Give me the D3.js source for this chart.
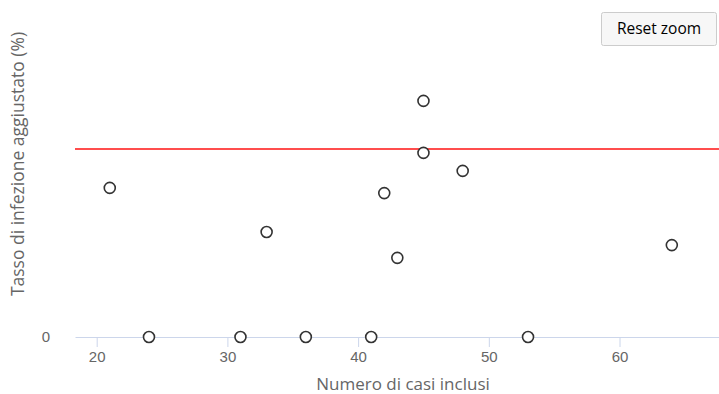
<!DOCTYPE html>
<html>
<head>
<meta charset="utf-8">
<script src="https://cdn.jsdelivr.net/npm/d3@7"></script>
<style>
  body { margin: 0; background: #fff; }
  svg { display: block; font-family: "Open Sans", sans-serif; }
</style>
</head>
<body>
<div id="chart"></div>
<script>
// cases included per hospital
const casesIncluded = [21, 24, 31, 33, 36, 41, 42, 43, 45, 45, 48, 53, 64];
// adjusted infection rate (%)
const adjustedRate = [4.56, 0, 0, 3.21, 0, 0, 4.40, 2.42, 7.22, 5.63, 5.08, 0, 2.81];
const referenceRate = 5.75;
const xTicks = [20, 30, 40, 50, 60];
const yTicks = [0];

const width = 719, height = 394;
const margin = { top: 10, right: 0, bottom: 57, left: 75 };

const svg = d3.select("#chart").append("svg")
    .attr("width", width)
    .attr("height", height);

const x = d3.scaleLinear()
    .domain([18.34, 67.61])
    .range([margin.left, width - margin.right]);

const y = d3.scaleLinear()
    .domain([0, 10])
    .range([height - margin.bottom, margin.top]);

// X axis
const xAxis = svg.append("g")
    .attr("transform", `translate(0,${y(0)})`)
    .call(d3.axisBottom(x).tickValues(xTicks).tickSize(10).tickPadding(4).tickSizeOuter(0));
xAxis.select(".domain").attr("stroke", "#ccd6eb");
xAxis.selectAll(".tick line").attr("stroke", "#ccd6eb");
xAxis.selectAll(".tick text").attr("fill", "#666").style("font-size", "15px");

// Y axis (only zero label, no line)
const yAxis = svg.append("g")
    .attr("transform", `translate(${margin.left},0)`)
    .call(d3.axisLeft(y).tickValues(yTicks).tickSize(0).tickPadding(25));
yAxis.select(".domain").remove();
yAxis.selectAll(".tick text").attr("fill", "#666").style("font-size", "15px");

// Axis titles
svg.append("text")
    .attr("x", 403)
    .attr("y", 390)
    .attr("text-anchor", "middle")
    .attr("fill", "#666")
    .style("font-size", "17px")
    .text("Numero di casi inclusi");

svg.append("text")
    .attr("transform", `translate(24,${164}) rotate(-90)`)
    .attr("text-anchor", "middle")
    .attr("fill", "#666")
    .style("font-size", "17.5px")
    .text("Tasso di infezione aggiustato (%)");

// Reference line
svg.append("line")
    .attr("x1", margin.left)
    .attr("x2", width - margin.right)
    .attr("y1", y(referenceRate))
    .attr("y2", y(referenceRate))
    .attr("stroke", "#ff4d4d")
    .attr("stroke-width", 2);

// Points
const points = casesIncluded.map((c, i) => ({ c, r: adjustedRate[i] }));
svg.append("g").selectAll("circle")
    .data(points)
    .enter()
    .append("circle")
    .attr("cx", d => x(d.c))
    .attr("cy", d => y(d.r))
    .attr("r", 5.5)
    .attr("fill", "#fff")
    .attr("stroke", "#333")
    .attr("stroke-width", 1.6);

// Reset zoom button
const btn = svg.append("g").attr("transform", "translate(601,12)");
btn.append("rect")
    .attr("x", 0.5).attr("y", 0.5)
    .attr("width", 115).attr("height", 33)
    .attr("rx", 2)
    .attr("fill", "#f7f7f7")
    .attr("stroke", "#cccccc");
btn.append("text")
    .attr("x", 58).attr("y", 22)
    .attr("text-anchor", "middle")
    .attr("fill", "#000")
    .style("font-size", "15.5px")
    .text("Reset zoom");
</script>
</body>
</html>
